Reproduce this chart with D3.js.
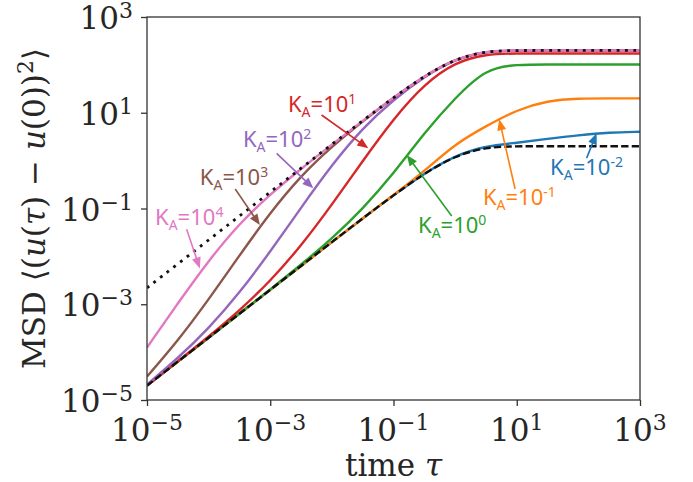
<!DOCTYPE html>
<html>
<head>
<meta charset="utf-8">
<script src="https://cdn.jsdelivr.net/npm/d3@7/dist/d3.min.js"></script>
<style>
    body { margin: 0; background: #fff; }
    #chart-dims { width: 693px; height: 482px; }
    .tick-label, .axis-title { font-family: "DejaVu Serif", serif; font-size: 31px; fill: #262626; }
    .anno { font-family: "Noto Sans", sans-serif; font-size: 22px; }
</style>
</head>
<body>
<div id="chart-dims"><div id="chart"></div></div>
<script>
// lag time tau, half-decade grid
const tau = [1e-5, 3.16e-5, 1e-4, 3.16e-4, 1e-3, 3.16e-3, 1e-2, 3.16e-2, 0.1, 0.316, 1, 3.16, 10, 31.6, 100, 316, 1000];

// bounds (black)
const msdLower = [2.0e-5, 6.32e-5, 2.0e-4, 6.32e-4, 2.0e-3, 6.31e-3, 0.0199, 0.0622, 0.190, 0.542, 1.264, 1.915, 2.0, 2.0, 2.0, 2.0, 2.0];
const msdUpper = [2.2e-3, 6.96e-3, 0.0220, 0.0695, 0.220, 0.694, 2.19, 6.84, 20.8, 58.7, 133, 194, 200, 200, 200, 200, 200];

// one curve per K_A
const msdK1e4  = [1.25e-4, 1.045e-3, 8.21e-3, 0.0486, 0.198, 0.673, 2.16, 6.81, 20.8, 58.7, 133, 194, 200, 200, 200, 200, 200];
const msdK1e3  = [3.09e-5, 1.71e-4, 1.25e-3, 0.01045, 0.0821, 0.486, 1.97, 6.62, 20.6, 58.5, 133, 194, 199, 199, 199, 199, 199];
const msdK1e2  = [2.11e-5, 7.41e-5, 3.09e-4, 1.71e-3, 0.01253, 0.1044, 0.818, 4.80, 18.8, 57.1, 132, 192, 198, 198, 198, 198, 198];
const msdK1e1  = [2.0e-5, 6.43e-5, 2.10e-4, 7.35e-4, 3.03e-3, 0.01653, 0.1195, 0.983, 7.48, 39.9, 114, 169, 173, 173, 173, 173, 173];
const msdK1e0  = [2.0e-5, 6.33e-5, 2.01e-4, 6.43e-4, 2.04e-3, 6.67e-3, 0.0235, 0.0977, 0.531, 3.8, 20.5, 84, 102, 102, 102, 102, 102];
const msdK1em1 = [2.0e-5, 6.32e-5, 2.0e-4, 6.32e-4, 2.0e-3, 6.31e-3, 0.0199, 0.0622, 0.190, 0.60, 2.24, 5.25, 11.5, 18.0, 19.9, 20.0, 20.0];
const msdK1em2 = [2.0e-5, 6.32e-5, 2.0e-4, 6.32e-4, 2.0e-3, 6.31e-3, 0.0199, 0.0622, 0.190, 0.545, 1.28, 2.03, 2.35, 2.85, 3.40, 3.88, 4.0];

const kExps = ["-2", "-1", "0", "1", "2", "3", "4"];
const tickValues = [1e-5, 1e-3, 1e-1, 1e1, 1e3];
const tickExps = ["\u22125", "\u22123", "\u22121", "1", "3"];

class MsdChart {
    constructor(_parentElement) {
        this.parentElement = _parentElement;
        this.colors = ["#1f77b4", "#ff7f0e", "#2ca02c", "#d62728", "#9467bd", "#8c564b", "#e377c2"];
        this.initVis();
    }

    initVis() {
        let vis = this;

        vis.margin = {top: 17, right: 53, bottom: 82, left: 147};
        let dims = document.getElementById(vis.parentElement + "-dims").getBoundingClientRect();
        vis.width = dims.width - vis.margin.left - vis.margin.right;
        vis.height = dims.height - vis.margin.top - vis.margin.bottom;

        vis.svg = d3.select("#" + vis.parentElement).append("svg")
            .attr("width", dims.width)
            .attr("height", dims.height)
            .append("g")
            .attr("transform", `translate(${vis.margin.left}, ${vis.margin.top})`);

        vis.svg.append("clipPath").attr("id", "plot-clip")
            .append("rect").attr("width", vis.width).attr("height", vis.height);

        // scales
        vis.x = d3.scaleLog().domain([1e-5, 1e3]).range([0, vis.width]);
        vis.y = d3.scaleLog().domain([1e-5, 1e3]).range([vis.height, 0]);

        vis.wrangleData();
    }

    wrangleData() {
        let vis = this;
        let curves = [msdK1em2, msdK1em1, msdK1e0, msdK1e1, msdK1e2, msdK1e3, msdK1e4];
        vis.displayData = curves.map((vals, i) => ({exp: kExps[i], color: vis.colors[i], values: vals}));

        // annotation anchors in data coords: text baseline start, arrow start, arrow tip
        vis.annos = [
            {exp: "-2", color: vis.colors[0], text: [34.7, 0.50], from: [136, 1.13], tip: [198, 3.72]},
            {exp: "-1", color: vis.colors[1], text: [2.83, 0.118], from: [9.4, 0.255], tip: [5.2, 7.3]},
            {exp: "0", color: vis.colors[2], text: [0.25, 0.0308], from: [0.88, 0.0697], tip: [0.164, 1.31]},
            {exp: "1", color: vis.colors[3], text: [1.94e-3, 10.5], from: [6.8e-3, 8.97], tip: [0.039, 1.81]},
            {exp: "2", color: vis.colors[4], text: [3.6e-4, 1.95], from: [1.27e-3, 1.42], tip: [5.0e-3, 0.264]},
            {exp: "3", color: vis.colors[5], text: [7.2e-5, 0.31], from: [2.7e-4, 0.255], tip: [6.8e-4, 0.045]},
            {exp: "4", color: vis.colors[6], text: [1.35e-5, 0.045], from: [4.4e-5, 0.037], tip: [7.2e-5, 5.6e-3]}
        ];
        vis.updateVis();
    }

    updateVis() {
        let vis = this;

        let line = d3.line()
            .x((d, i) => vis.x(tau[i]))
            .y(d => vis.y(d))
            .curve(d3.curveBasis);

        let plot = vis.svg.append("g").attr("clip-path", "url(#plot-clip)");

        plot.selectAll(".msd-line")
            .data(vis.displayData)
            .enter().append("path")
            .attr("class", "msd-line")
            .attr("d", d => line(d.values))
            .attr("fill", "none")
            .attr("stroke", d => d.color)
            .attr("stroke-width", 2.4);

        plot.append("path")
            .attr("d", line(msdLower))
            .attr("fill", "none")
            .attr("stroke", "#111")
            .attr("stroke-width", 2.4)
            .attr("stroke-dasharray", "7.4 3.2");

        plot.append("path")
            .attr("d", line(msdUpper))
            .attr("fill", "none")
            .attr("stroke", "#111")
            .attr("stroke-width", 2.8)
            .attr("stroke-dasharray", "2.8 5.6");

        // frame
        vis.svg.append("rect")
            .attr("width", vis.width).attr("height", vis.height)
            .attr("fill", "none").attr("stroke", "#333").attr("stroke-width", 1.3);

        // axes, ticks only at every other decade
        let xAxis = vis.svg.append("g")
            .attr("transform", `translate(0, ${vis.height})`)
            .call(d3.axisBottom(vis.x).tickValues(tickValues).tickSize(6).tickFormat(""));
        let yAxis = vis.svg.append("g")
            .call(d3.axisLeft(vis.y).tickValues(tickValues).tickSize(6).tickFormat(""));
        [xAxis, yAxis].forEach(g => {
            g.select(".domain").remove();
            g.selectAll(".tick line").attr("stroke", "#333").attr("stroke-width", 1.3);
        });

        let xLab = vis.svg.selectAll(".x-lab").data(tickValues).enter().append("text")
            .attr("class", "tick-label x-lab")
            .attr("x", d => vis.x(d))
            .attr("y", vis.height + 41)
            .attr("text-anchor", "middle");
        let yLab = vis.svg.selectAll(".y-lab").data(tickValues).enter().append("text")
            .attr("class", "tick-label y-lab")
            .attr("x", -14)
            .attr("y", d => vis.y(d) + 12)
            .attr("text-anchor", "end");
        [xLab, yLab].forEach(sel => {
            sel.append("tspan").text("10");
            sel.append("tspan").attr("dy", -11).style("font-size", "22px").text((d, i) => tickExps[i]);
        });

        // axis titles
        let xt = vis.svg.append("text").attr("class", "axis-title")
            .attr("x", vis.width / 2).attr("y", vis.height + 76)
            .attr("text-anchor", "middle");
        xt.append("tspan").text("time ");
        xt.append("tspan").style("font-style", "italic").text("\u03c4");

        let yt = vis.svg.append("text").attr("class", "axis-title")
            .attr("transform", `translate(${-102}, ${vis.height / 2}) rotate(-90)`)
            .attr("text-anchor", "middle");
        yt.append("tspan").text("MSD \u27e8(");
        yt.append("tspan").style("font-style", "italic").text("u");
        yt.append("tspan").text("(");
        yt.append("tspan").style("font-style", "italic").text("\u03c4");
        yt.append("tspan").text(") \u2212 ");
        yt.append("tspan").style("font-style", "italic").text("u");
        yt.append("tspan").text("(0))");
        yt.append("tspan").attr("dy", -12).style("font-size", "22px").text("2");
        yt.append("tspan").attr("dy", 12).text("\u27e9");

        // K_A annotations with arrows
        let annos = vis.svg.selectAll(".anno-g").data(vis.annos).enter().append("g").attr("class", "anno-g");
        let headLen = 11, headHalf = 4.5;
        annos.each(function(d) {
            let g = d3.select(this);
            let p0 = [vis.x(d.from[0]), vis.y(d.from[1])];
            let p1 = [vis.x(d.tip[0]), vis.y(d.tip[1])];
            let dx = p1[0] - p0[0], dy = p1[1] - p0[1];
            let len = Math.hypot(dx, dy);
            let ux = dx / len, uy = dy / len;
            let bx = p1[0] - ux * headLen, by = p1[1] - uy * headLen;
            g.append("line")
                .attr("x1", p0[0]).attr("y1", p0[1])
                .attr("x2", bx + ux * 2).attr("y2", by + uy * 2)
                .attr("stroke", d.color).attr("stroke-width", 1.6);
            g.append("polygon")
                .attr("points", [[p1[0], p1[1]], [bx - uy * headHalf, by + ux * headHalf], [bx + uy * headHalf, by - ux * headHalf]].join(" "))
                .attr("fill", d.color);

            let t = g.append("text").attr("class", "anno")
                .attr("x", vis.x(d.text[0])).attr("y", vis.y(d.text[1]))
                .attr("fill", d.color);
            t.append("tspan").text("K");
            t.append("tspan").attr("dy", 5).style("font-size", "14px").text("A");
            t.append("tspan").attr("dy", -5).text("=10");
            t.append("tspan").attr("dy", -8).style("font-size", "14px").text(d.exp);
        });
    }
}

new MsdChart("chart");
</script>
</body>
</html>
